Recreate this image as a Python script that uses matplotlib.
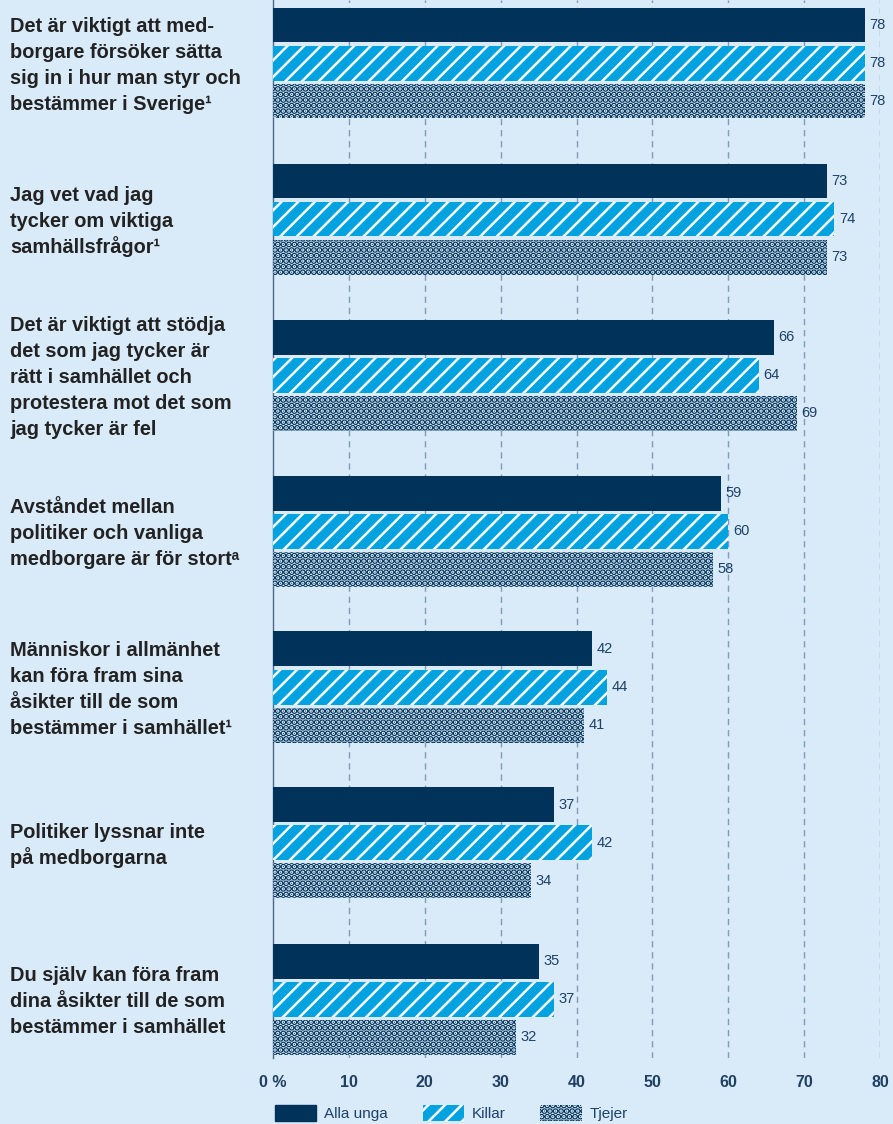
import matplotlib.pyplot as plt
from matplotlib.patches import Patch
from matplotlib.transforms import blended_transform_factory

plt.rcParams['font.family'] = ['Liberation Sans', 'DejaVu Sans']
plt.rcParams['hatch.linewidth'] = 1.8

categories = [
    "Det är viktigt att med-\nborgare försöker sätta\nsig in i hur man styr och\nbestämmer i Sverige¹",
    "Jag vet vad jag\ntycker om viktiga\nsamhällsfrågor¹",
    "Det är viktigt att stödja\ndet som jag tycker är\nrätt i samhället och\nprotestera mot det som\njag tycker är fel",
    "Avståndet mellan\npolitiker och vanliga\nmedborgare är för stortᵃ",
    "Människor i allmänhet\nkan föra fram sina\nåsikter till de som\nbestämmer i samhället¹",
    "Politiker lyssnar inte\npå medborgarna",
    "Du själv kan föra fram\ndina åsikter till de som\nbestämmer i samhället",
]
alla_unga = [78, 73, 66, 59, 42, 37, 35]
killar = [78, 74, 64, 60, 44, 42, 37]
tjejer = [78, 73, 69, 58, 41, 34, 32]
series_names = ["Alla unga", "Killar", "Tjejer"]
xticks = [0, 10, 20, 30, 40, 50, 60, 70, 80]
xticklabels = ["0 %", "10", "20", "30", "40", "50", "60", "70", "80"]

bg = '#d9eaf8'
navy = '#00325a'
cyan = '#00a3e0'
numcol = '#1d416a'
dot_lw = 3.2

fig = plt.figure(figsize=(8.93, 11.24), dpi=100, facecolor=bg)
ax = fig.add_axes([273/893, 1 - 1058/1124, 607/893, 1058/1124])
ax.set_facecolor(bg)

px = 38.0            # pixels per y data unit
group_step = 156 / px
h = 35 / px
styles = [
    dict(color=navy),
    dict(facecolor=cyan, edgecolor='white', hatch='//', linewidth=0),
    dict(facecolor=bg, edgecolor=navy, hatch='...', linewidth=0),
]


def thicken_dots(patches, lw=dot_lw):
    for p in patches:
        if hasattr(p, 'set_hatch_linewidth'):
            p.set_hatch_linewidth(lw)


for k, vals in enumerate([alla_unga, killar, tjejer]):
    ys = [g * group_step + k for g in range(len(vals))]
    with plt.rc_context({'hatch.linewidth': dot_lw if k == 2 else 1.8}):
        bars = ax.barh(ys, vals, height=h, zorder=3, **styles[k])
    if k == 2:
        thicken_dots(bars)
    for y, v in zip(ys, vals):
        ax.annotate(str(v), (v, y), xytext=(3.5, 0), textcoords='offset points',
                    va='center', ha='left', fontsize=10.5, color=numcol, zorder=4)

ax.set_xlim(0, 80)
ax.set_ylim((1058 - 25) / px, -25 / px)
ax.set_xticks(xticks)
ax.set_xticklabels(xticklabels, fontsize=11.5, fontweight='bold', color='#1f3f63')
ax.tick_params(axis='x', length=0, pad=12)
ax.set_yticks([])

for x in xticks[1:]:
    ax.axvline(x, color='#7f9cb8', linewidth=1, linestyle=(0, (4.5, 3.5)), zorder=1)

for s in ['top', 'right', 'bottom']:
    ax.spines[s].set_visible(False)
ax.spines['left'].set_color('#4a6a8a')
ax.spines['left'].set_linewidth(1)

# category labels, one text per line for even spacing
trans = blended_transform_factory(ax.transAxes, ax.transData)
line_gap = 25.8 / px
for g, cat in enumerate(categories):
    lines = cat.split('\n')
    center = g * group_step + 1
    for i, line in enumerate(lines):
        y = center + (i - (len(lines) - 1) / 2) * line_gap + 8 / px
        ax.text(-263/607, y, line, transform=trans, ha='left', va='baseline',
                fontsize=14.4, fontweight='bold', color='#222222')

handles = [Patch(**styles[0]), Patch(**styles[1]), Patch(**styles[2])]
with plt.rc_context({'hatch.linewidth': dot_lw}):
    leg = fig.legend(handles, series_names, loc='center left',
                     bbox_to_anchor=(261/893, 1 - 1113/1124),
                     ncol=3, frameon=False, fontsize=11, handlelength=2.7, handleheight=1.2,
                     columnspacing=2.3, handletextpad=0.5, labelcolor='#1d416a')
patches = leg.get_patches()
thicken_dots(patches[2:])
if hasattr(patches[1], 'set_hatch_linewidth'):
    patches[1].set_hatch_linewidth(1.8)

fig.savefig('out.png', dpi=100, facecolor=bg)
